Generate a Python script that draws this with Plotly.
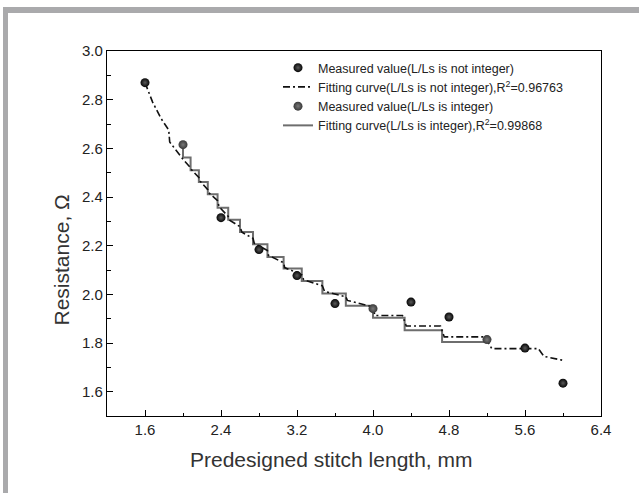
import plotly.graph_objects as go

# ---------------- data ----------------
# Measured values, L/Ls not integer
x_meas_ni = [1.6, 2.4, 2.8, 3.2, 3.6, 4.4, 4.8, 5.6, 6.0]
y_meas_ni = [2.870, 2.315, 2.184, 2.077, 1.962, 1.968, 1.907, 1.779, 1.635]

# Measured values, L/Ls integer
x_meas_i = [2.0, 4.0, 5.2]
y_meas_i = [2.615, 1.941, 1.814]

# Fitting curve, L/Ls not integer (dash-dot)
x_fit_ni = [1.60, 1.68, 1.77, 1.85, 1.86, 1.93, 2.00, 2.08, 2.09, 2.167, 2.18,
            2.261, 2.27, 2.364, 2.38, 2.476, 2.49, 2.60, 2.62, 2.737, 2.75,
            2.889, 2.90, 3.059, 3.07, 3.25, 3.27, 3.467, 3.49, 3.714, 3.73,
            4.00, 4.02, 4.31, 4.35, 4.71, 4.75, 5.18, 5.25, 5.74, 5.80, 6.00]
y_fit_ni = [2.870, 2.790, 2.722, 2.675, 2.626, 2.590, 2.555, 2.520, 2.512, 2.480, 2.465,
            2.430, 2.418, 2.385, 2.360, 2.320, 2.305, 2.278, 2.255, 2.230, 2.210,
            2.180, 2.160, 2.130, 2.110, 2.080, 2.060, 2.035, 2.012, 1.990, 1.975,
            1.948, 1.913, 1.913, 1.870, 1.870, 1.825, 1.825, 1.777, 1.777, 1.745, 1.729]

# Fitting curve, L/Ls integer (staircase; each level holds up to the next x)
x_fit_i = [2.0, 2.08, 2.167, 2.261, 2.364, 2.476, 2.6, 2.737, 2.889, 3.059,
           3.25, 3.467, 3.714, 4.0, 4.333, 4.727, 5.2]
y_fit_i = [2.615, 2.562, 2.510, 2.462, 2.411, 2.356, 2.307, 2.256, 2.206, 2.153,
           2.106, 2.055, 2.003, 1.953, 1.904, 1.852, 1.804]

names = ["Measured value(L/Ls is not integer)",
         "Fitting curve(L/Ls is not integer),R<sup>2</sup>=0.96763",
         "Measured value(L/Ls is integer)",
         "Fitting curve(L/Ls is integer),R<sup>2</sup>=0.99868"]

x_ticks = [1.6, 2.4, 3.2, 4.0, 4.8, 5.6, 6.4]
y_ticks = [1.6, 1.8, 2.0, 2.2, 2.4, 2.6, 2.8, 3.0]

# ---------------- layout geometry ----------------
W, H = 639, 493
L, R, T, B = 107, 38, 51, 77
PW, PH = W - L - R, H - T - B

def px(x):
    return (x - L) / PW

def py(y):
    return 1 - (y - T) / PH

FONT = "Liberation Sans, Arial, sans-serif"

fig = go.Figure()

fig.add_trace(go.Scatter(
    x=x_fit_i, y=y_fit_i, mode="lines", name=names[3], legendrank=4,
    line=dict(color="#6e6e6e", width=2, shape="vh")))
fig.add_trace(go.Scatter(
    x=x_fit_ni, y=y_fit_ni, mode="lines", name=names[1], legendrank=2,
    line=dict(color="#111111", width=1.6, dash="7px,3px,2px,3px")))
fig.add_trace(go.Scatter(
    x=x_meas_ni, y=y_meas_ni, mode="markers", name=names[0], legendrank=1,
    marker=dict(color="#050505", size=9,
                gradient=dict(type="radial", color="#5a5a5a"),
                line=dict(width=0))))
fig.add_trace(go.Scatter(
    x=x_meas_i, y=y_meas_i, mode="markers", name=names[2], legendrank=3,
    marker=dict(color="#383838", size=9,
                gradient=dict(type="radial", color="#7a7a7a"),
                line=dict(width=0))))

axis_common = dict(
    showgrid=False, zeroline=False, showline=True, linecolor="#000",
    linewidth=1.3, mirror=True, ticks="inside", ticklen=6, tickwidth=1.2,
    tickcolor="#000", tickfont=dict(family=FONT, size=15, color="#222"),
)

fig.update_xaxes(range=[1.2, 6.4], tickvals=x_ticks,
                 ticktext=[f"{v:.1f}" for v in x_ticks],
                 minor=dict(dtick=0.4, tick0=1.2, ticks="inside", ticklen=3,
                            tickcolor="#000", tickwidth=1.2),
                 **axis_common)
fig.update_yaxes(range=[1.5, 3.0], tickvals=y_ticks,
                 ticktext=[f"{v:.1f}" for v in y_ticks],
                 minor=dict(dtick=0.1, tick0=1.5, ticks="inside", ticklen=4,
                            tickcolor="#000", tickwidth=1.2),
                 **axis_common)

fig.update_layout(
    width=W, height=H, autosize=False,
    margin=dict(l=L, r=R, t=T, b=B, pad=0),
    paper_bgcolor="white", plot_bgcolor="white",
    font=dict(family=FONT, color="#222"),
    legend=dict(x=px(278), y=py(53), xanchor="left", yanchor="top",
                bgcolor="rgba(0,0,0,0)", borderwidth=0,
                font=dict(family=FONT, size=12.5, color="#222"),
                itemwidth=30, tracegroupgap=0),
    showlegend=True,
    annotations=[
        dict(text="Predesigned stitch length, mm", x=px(331), y=py(473),
             xref="paper", yref="paper", showarrow=False,
             font=dict(family=FONT, size=21, color="#333")),
        dict(text="Resistance, Ω", x=px(47), y=py(260), textangle=-90,
             xref="paper", yref="paper", showarrow=False,
             font=dict(family=FONT, size=21, color="#333")),
    ],
    shapes=[
        dict(type="rect", xref="paper", yref="paper",
             x0=px(3), x1=px(639), y0=py(13), y1=py(7),
             fillcolor="#aaaaac", line=dict(width=0), layer="below"),
        dict(type="rect", xref="paper", yref="paper",
             x0=px(3), x1=px(8), y0=py(493), y1=py(7),
             fillcolor="#aaaaac", line=dict(width=0), layer="below"),
    ],
)

fig.write_html("out.html")
